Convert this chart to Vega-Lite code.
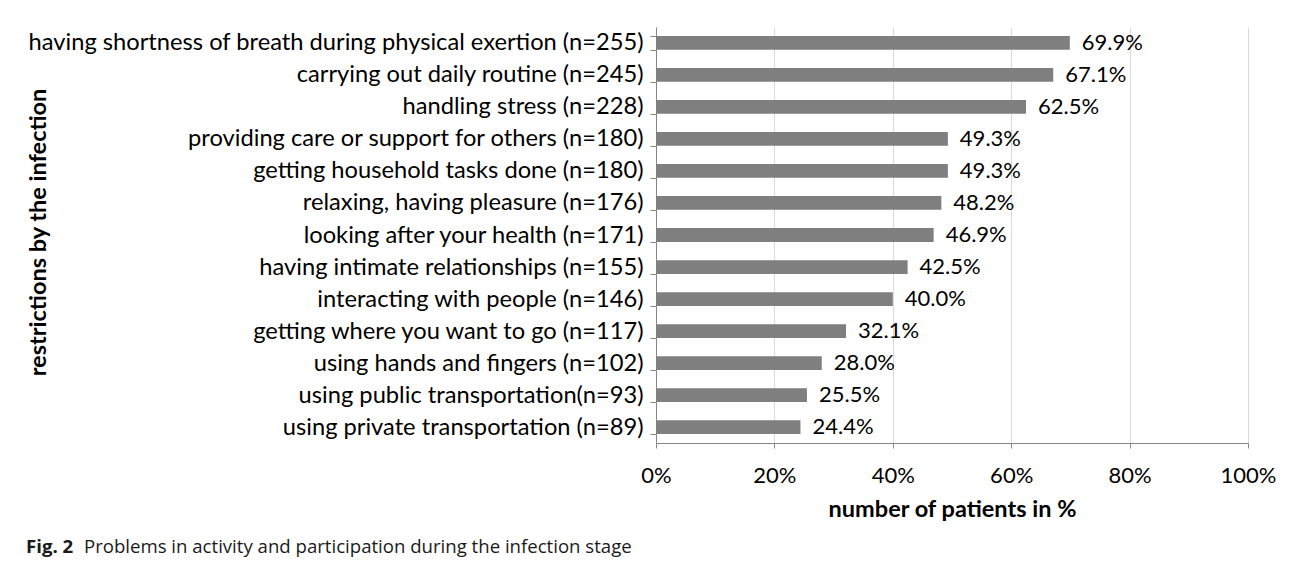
{
  "$schema": "https://vega.github.io/schema/vega-lite/v6.json",
  "autosize": "none",
  "width": 592,
  "height": 416,
  "padding": {"left": 656, "top": 27, "right": 42, "bottom": 124},
  "background": "white",
  "config": {
    "view": {"stroke": null},
    "font": "Lato"
  },
  "title": {
    "text": "Fig. 2",
    "subtitle": "\u200b\u00a0\u00a0\u00a0\u00a0\u00a0\u00a0\u00a0\u00a0\u00a0\u00a0\u00a0\u00a0Problems in activity and participation during the infection stage",
    "orient": "bottom",
    "anchor": "start",
    "frame": "group",
    "dx": -630,
    "offset": 17,
    "font": "Open Sans",
    "fontSize": 18.6,
    "fontWeight": "bold",
    "color": "#1a1a1a",
    "subtitleFont": "Open Sans",
    "subtitleFontSize": 18.6,
    "subtitleColor": "#1a1a1a",
    "subtitlePadding": -18.5
  },
  "data": {
    "values": [
      {"activity": "having shortness of breath during physical exertion (n=255)", "share": 0.699},
      {"activity": "carrying out daily routine (n=245)", "share": 0.671},
      {"activity": "handling stress (n=228)", "share": 0.625},
      {"activity": "providing care or support for others (n=180)", "share": 0.493},
      {"activity": "getting household tasks done (n=180)", "share": 0.493},
      {"activity": "relaxing, having pleasure (n=176)", "share": 0.482},
      {"activity": "looking after your health (n=171)", "share": 0.469},
      {"activity": "having intimate relationships (n=155)", "share": 0.425},
      {"activity": "interacting with people (n=146)", "share": 0.400},
      {"activity": "getting where you want to go (n=117)", "share": 0.321},
      {"activity": "using hands and fingers (n=102)", "share": 0.280},
      {"activity": "using public transportation(n=93)", "share": 0.255},
      {"activity": "using private transportation (n=89)", "share": 0.244}
    ]
  },
  "encoding": {
    "y": {
      "field": "activity",
      "type": "nominal",
      "sort": null,
      "scale": {"paddingInner": 0.57, "paddingOuter": 0.28},
      "axis": {
        "title": "restrictions by the infection",
        "titleFont": "Lato",
        "titleFontSize": 23.5,
        "titleFontWeight": "bold",
        "titleColor": "#000000",
        "titleX": -618,
        "titleY": 205,
        "titleAngle": -90,
        "titleAlign": "center",
        "titleBaseline": "middle",
        "labelFont": "Lato",
        "labelFontSize": 23.7,
        "labelColor": "#000000",
        "labelLimit": 700,
        "labelPadding": 7,
        "tickBand": "extent",
        "tickSize": 6,
        "tickColor": "#868686",
        "domainColor": "#868686",
        "grid": false
      }
    },
    "x": {
      "field": "share",
      "type": "quantitative",
      "scale": {"domain": [0, 1]},
      "axis": {
        "title": "number of patients in %",
        "titleFont": "Lato",
        "titleFontSize": 23.5,
        "titleFontWeight": "bold",
        "titleColor": "#000000",
        "titlePadding": 11,
        "format": "%",
        "values": [0, 0.2, 0.4, 0.6, 0.8, 1],
        "labelFont": "Lato",
        "labelFontSize": 22,
        "labelColor": "#000000",
        "labelPadding": 17,
        "tickSize": 5,
        "tickColor": "#868686",
        "domainColor": "#868686",
        "gridColor": "#d9d9d9",
        "labelFlush": false
      }
    }
  },
  "layer": [
    {"mark": {"type": "bar", "color": "#7f7f7f"}},
    {
      "mark": {"type": "text", "align": "left", "dx": 12, "fontSize": 22, "font": "Lato", "color": "#000000"},
      "encoding": {"text": {"field": "share", "type": "quantitative", "format": ".1%"}}
    }
  ]
}
